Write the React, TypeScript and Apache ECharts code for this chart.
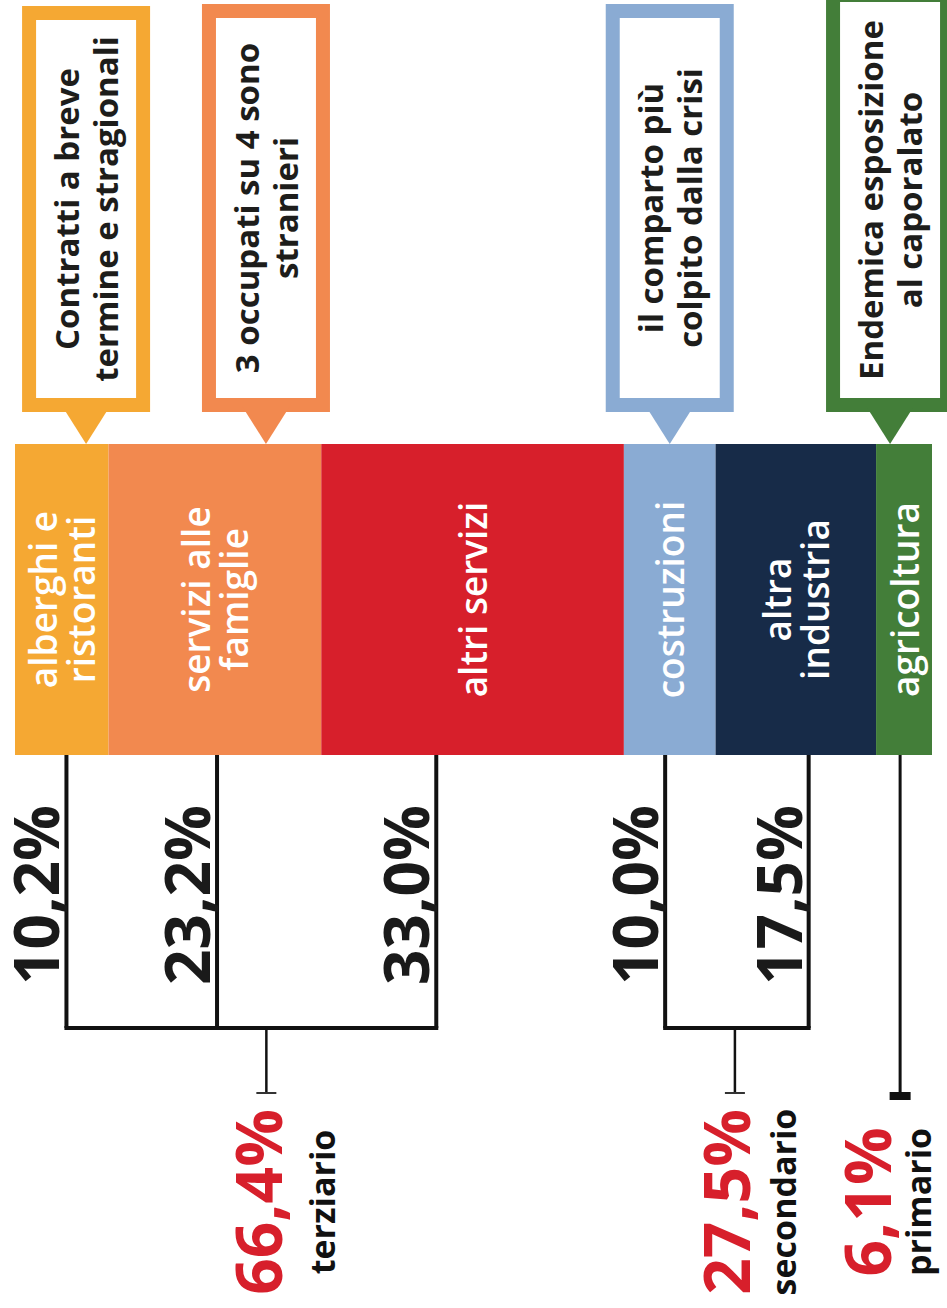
import React, { useEffect, useRef } from "react";
import * as echarts from "echarts";

// ---------- data ----------
const categories = [
  "alberghi e\nristoranti",
  "servizi alle\nfamiglie",
  "altri servizi",
  "costruzioni",
  "altra\nindustria",
  "agricoltura",
];
const shares = [10.2, 23.2, 33.0, 10.0, 17.5, 6.1];
const sectorNames = ["terziario", "secondario", "primario"];
const sectorShares = [66.4, 27.5, 6.1];
const sectorOfCategory = [0, 0, 0, 1, 1, 2];
const noteTexts = [
  "Contratti a breve\ntermine e stragionali",
  "3 occupati su 4 sono\nstranieri",
  "il comparto più\ncolpito dalla crisi",
  "Endemica esposizione\nal caporalato",
];
const noteCategory = [0, 1, 3, 5];

// ---------- styles / layout ----------
const FONT = '"Open Sans", "Noto Sans", sans-serif';
const barColors = ["#F5A833", "#F2894F", "#D71F2B", "#8AABD3", "#172B48", "#437E39"];
const LEADER_FRAC = [0.55, 0.51, 0.38, 0.45, 0.58, 0.43];
const NOTE_FRAC = [0.76, 0.74, 0.5, 0.25];
const NOTE_TOP = [6, 4, 4, -12];
const SECTOR_TICK_DX = [15, -2, 0];
const SECTOR_NUM_DX = [-9, -9, -34];
const SECTOR_WORD_DX = [65, 57, 52];
const GRID_TOP = 444;
const GRID_H = 311;
const BRACKET_Y = 1028;
const LABEL_Y = 1202;

const pct = (v: number) => v.toFixed(1).replace(".", ",") + "%";

function txt(x: number, y: number, text: string, o: any) {
  return {
    type: "text",
    x,
    y,
    rotation: Math.PI / 2,
    silent: true,
    style: {
      text,
      fill: o.fill,
      fontSize: o.size,
      fontWeight: o.weight || "bold",
      fontFamily: FONT,
      lineHeight: o.lh || o.size,
      align: o.align || "center",
      textAlign: o.align || "center",
      verticalAlign: "middle",
      textVerticalAlign: "middle",
    },
  };
}

export default function App() {
  const ref = useRef<HTMLDivElement>(null);
  useEffect(() => {
    document.body.style.margin = "0";
    const el = ref.current!;
    const chart = echarts.init(el, null, { renderer: "svg" });
    const total = shares.reduce((a, b) => a + b, 0);
    chart.setOption({
      animation: false,
      backgroundColor: "#ffffff",
      grid: { left: 15, right: 15, top: GRID_TOP, height: GRID_H },
      xAxis: { type: "value", min: 0, max: total, show: false },
      yAxis: { type: "category", data: ["occupati"], show: false },
      series: categories.map((c, i) => ({
        type: "bar",
        name: c.replace("\n", " "),
        stack: "tot",
        data: [shares[i]],
        barWidth: "100%",
        barCategoryGap: "0%",
        silent: true,
        itemStyle: { color: barColors[i] },
        label: {
          show: true,
          position: "inside",
          rotate: 90,
          formatter: () => c,
          color: "#ffffff",
          fontFamily: FONT,
          fontWeight: 600,
          fontSize: 37,
          lineHeight: 38,
        },
      })),
    });

    const xp = (v: number) => chart.convertToPixel({ xAxisIndex: 0 }, v) as number;
    const cum: number[] = [0];
    shares.forEach((s, i) => cum.push(cum[i] + s));
    const segL = shares.map((_, i) => xp(cum[i]));
    const segR = shares.map((_, i) => xp(cum[i + 1]));
    const barBottom = GRID_TOP + GRID_H;
    const leaderX = shares.map((_, i) => segL[i] + LEADER_FRAC[i] * (segR[i] - segL[i]));

    const g: any[] = [];

    // callouts
    noteTexts.forEach((t, k) => {
      const s = noteCategory[k];
      const cx = segL[s] + NOTE_FRAC[k] * (segR[s] - segL[s]);
      const top = NOTE_TOP[k];
      const bottom = 412;
      const col = barColors[s];
      g.push({
        type: "rect",
        silent: true,
        shape: { x: cx - 57, y: top + 7, width: 114, height: bottom - 7 - (top + 7) },
        style: { fill: "#ffffff", stroke: col, lineWidth: 14 },
      });
      g.push({
        type: "polygon",
        silent: true,
        shape: { points: [[cx - 24, bottom - 6], [cx + 24, bottom - 6], [cx, GRID_TOP]] },
        style: { fill: col },
      });
      g.push(txt(cx, (top + bottom) / 2, t, { fill: "#1d1d1b", size: 33, lh: 39 }));
    });

    // leaders + category percentages
    shares.forEach((v, i) => {
      const s = sectorOfCategory[i];
      const members = sectorOfCategory.filter((x) => x === s).length;
      const endY = members > 1 ? BRACKET_Y : 1096;
      g.push({
        type: "line",
        silent: true,
        shape: { x1: leaderX[i], y1: barBottom, x2: leaderX[i], y2: endY },
        style: { stroke: "#111111", lineWidth: members > 1 ? 4 : 3 },
      });
      if (members > 1) {
        g.push(txt(leaderX[i] - 31, 985, pct(v), { fill: "#1a1a1a", size: 62, align: "left" }));
      }
    });

    // sector brackets and labels
    sectorNames.forEach((name, s) => {
      const idx = sectorOfCategory.map((x, i) => (x === s ? i : -1)).filter((i) => i >= 0);
      let tick: number;
      if (idx.length > 1) {
        const a = leaderX[idx[0]];
        const b = leaderX[idx[idx.length - 1]];
        g.push({
          type: "line",
          silent: true,
          shape: { x1: a - 2, y1: BRACKET_Y, x2: b + 2, y2: BRACKET_Y },
          style: { stroke: "#111111", lineWidth: 4 },
        });
        tick = (a + b) / 2 + SECTOR_TICK_DX[s];
        g.push({
          type: "line",
          silent: true,
          shape: { x1: tick, y1: BRACKET_Y, x2: tick, y2: 1093 },
          style: { stroke: "#111111", lineWidth: 2.5 },
        });
        g.push({
          type: "line",
          silent: true,
          shape: { x1: tick - 10, y1: 1093, x2: tick + 10, y2: 1093 },
          style: { stroke: "#333333", lineWidth: 2 },
        });
      } else {
        tick = leaderX[idx[0]] + SECTOR_TICK_DX[s];
        g.push({
          type: "rect",
          silent: true,
          shape: { x: tick - 10.5, y: 1092, width: 21, height: 8 },
          style: { fill: "#111111" },
        });
      }
      const nx = tick + SECTOR_NUM_DX[s];
      g.push(txt(nx, LABEL_Y, pct(sectorShares[s]), { fill: "#D71F2B", size: 64 }));
      g.push(txt(nx + SECTOR_WORD_DX[s], LABEL_Y, name, { fill: "#111111", size: 34 }));
    });

    chart.setOption({ graphic: g });
    return () => chart.dispose();
  }, []);
  return <div ref={ref} style={{ width: 947, height: 1308 }} />;
}
